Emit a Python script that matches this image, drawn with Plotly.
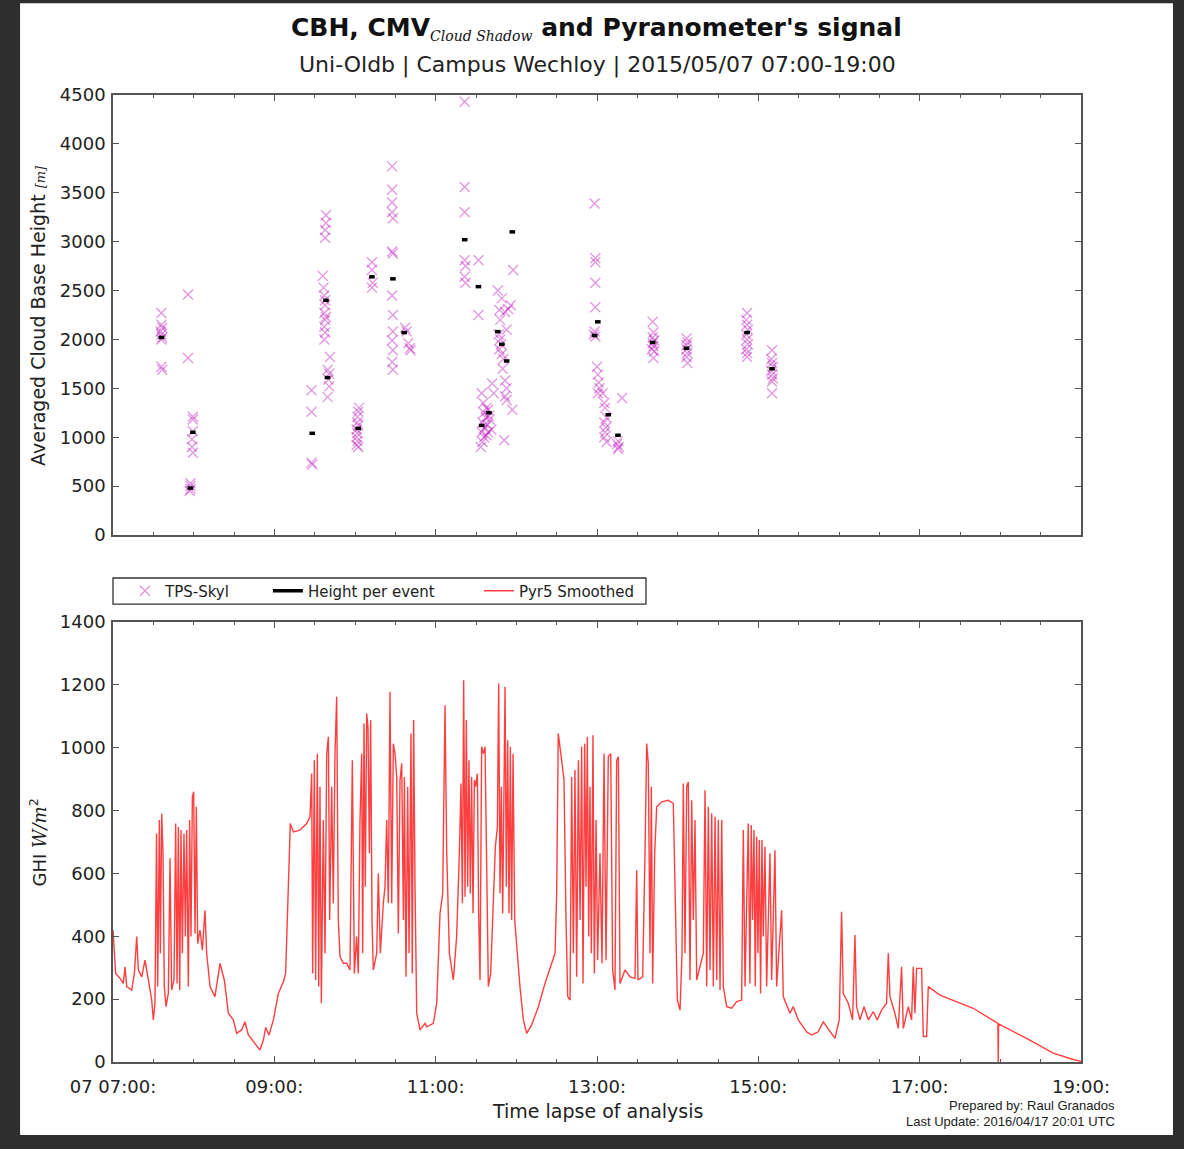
import plotly.graph_objects as go

# ---------------- data ----------------
# TPS-Skyl cloud base heights (crosses): decimal hour of day, height [m]
tps_hour = [
    7.60, 7.60, 7.61, 7.59, 7.60, 7.61, 7.60, 7.60, 7.61,
    7.93, 7.93, 7.99, 7.99, 7.99, 7.98, 7.98, 7.99, 7.96, 7.96, 7.96, 7.95,
    9.46, 9.46, 9.46, 9.47,
    9.64, 9.64, 9.63, 9.63, 9.60, 9.61, 9.62, 9.63, 9.62, 9.63, 9.62, 9.63, 9.62, 9.69, 9.66, 9.68, 9.67, 9.68, 9.66, 9.63, 9.64,
    10.05, 10.04, 10.03, 10.03, 10.04, 10.02, 10.03, 10.02, 10.03, 10.02, 10.04,
    10.21, 10.21, 10.22, 10.21,
    10.46, 10.46, 10.46, 10.46, 10.47, 10.46, 10.47, 10.46, 10.47, 10.47, 10.46, 10.47, 10.46, 10.47,
    10.62, 10.64, 10.66, 10.68, 10.69,
    11.36, 11.36, 11.36, 11.36, 11.37, 11.36, 11.37, 11.53, 11.53,
    11.57, 11.59, 11.60, 11.62, 11.58, 11.61, 11.57, 11.60, 11.58, 11.63, 11.65, 11.66, 11.67, 11.64, 11.69, 11.65, 11.70, 11.72, 11.63, 11.56,
    11.77, 11.82, 11.79, 11.86, 11.90, 11.80, 11.78, 11.80, 11.81, 11.79, 11.82, 11.84, 11.83, 11.86, 11.88, 11.86, 11.88, 11.95, 11.85, 11.96, 11.93, 11.88,
    12.97, 12.98, 12.98, 12.98, 12.98, 12.97, 12.96, 12.98, 13.00, 13.01, 13.02, 13.03, 13.01, 13.07, 13.09, 13.10, 13.12, 13.09, 13.11, 13.10, 13.09, 13.12, 13.31, 13.26, 13.25, 13.27, 13.26,
    13.69, 13.70, 13.69, 13.71, 13.69, 13.70, 13.68, 13.71, 13.70,
    14.11, 14.12, 14.11, 14.11, 14.12, 14.11, 14.12,
    14.86, 14.85, 14.86, 14.87, 14.85, 14.86, 14.87, 14.85, 14.86, 14.86,
    15.17, 15.16, 15.17, 15.18, 15.16, 15.17, 15.18, 15.17, 15.17,
]
tps_height = [
    2270, 2150, 2120, 2080, 2050, 2020, 2000, 1720, 1690,
    2460, 1810, 1210, 1180, 1060, 980, 900, 840, 530, 500, 470, 450,
    1480, 1260, 740, 720,
    3270, 3190, 3120, 3040, 2650, 2530, 2450, 2350, 2270, 2200, 2130, 2070, 2000, 1820, 1690, 1650, 1590, 1520, 1410, 2400, 2230,
    1300, 1260, 1210, 1150, 1120, 1080, 1040, 1000, 960, 920, 900,
    2790, 2710, 2580, 2530,
    3770, 3530, 3400, 3300, 3240, 2900, 2880, 2450, 2250, 2080, 1990, 1890, 1770, 1690,
    2120, 2080, 1960, 1910, 1890,
    4430, 3560, 3300, 2810, 2750, 2640, 2580, 2810, 2250,
    1450, 1350, 1250, 1200, 1150, 1100, 1050, 1000, 950, 1300, 1280, 1220, 1180, 1130, 1080, 1050, 1550, 1450, 1020, 900,
    2500, 2420, 2300, 2280, 2310, 2200, 2050, 2000, 1950, 1900, 1850, 1800, 1700, 1580, 1500, 1420, 1380, 1280, 970, 2710, 2350, 2100,
    3390, 2830, 2790, 2580, 2330, 2080, 2050, 2030, 1720, 1640, 1560, 1500, 1450, 1450, 1350, 1300, 1200, 1150, 1100, 1050, 1000, 950, 1400, 960, 930, 900, 880,
    2180, 2070, 2020, 1990, 1960, 1930, 1900, 1880, 1810,
    2010, 1970, 1940, 1900, 1860, 1820, 1760,
    2270, 2200, 2150, 2100, 2050, 2000, 1950, 1900, 1860, 1820,
    1890, 1800, 1760, 1720, 1680, 1640, 1600, 1570, 1450,
]

# Height per event (black dashes)
event_hour = [7.60, 7.99, 7.96, 9.47, 9.64, 9.66, 10.04, 10.21, 10.47, 10.61, 11.36, 11.53, 11.57,
              11.66, 11.77, 11.82, 11.88, 11.95, 12.97, 13.01, 13.14, 13.26, 13.69, 14.11, 14.86, 15.17]
event_height = [2020, 1050, 480, 1040, 2400, 1610, 1090, 2640, 2620, 2070, 3020, 2540, 1120,
                1250, 2080, 1950, 1780, 3100, 2040, 2180, 1230, 1020, 1970, 1910, 2070, 1700]

# Pyr5 smoothed GHI [W/m2]
ghi_hour = [
    7.00, 7.017, 7.033, 7.087, 7.128, 7.149, 7.170, 7.232, 7.265, 7.294,
    7.314, 7.356, 7.397, 7.438, 7.48, 7.50, 7.52, 7.54, 7.554, 7.575,
    7.587, 7.604, 7.62, 7.636, 7.657, 7.686, 7.707, 7.727, 7.756, 7.777,
    7.794, 7.81, 7.827, 7.843, 7.86, 7.88, 7.897, 7.913, 7.934, 7.95,
    7.967, 7.984, 8.0, 8.017, 8.033, 8.05, 8.079, 8.108, 8.14, 8.161,
    8.203, 8.264, 8.327, 8.38, 8.43, 8.492, 8.533, 8.595, 8.636, 8.678,
    8.74, 8.822, 8.864, 8.893, 8.934, 8.988, 9.05, 9.112, 9.14, 9.165,
    9.182, 9.198, 9.236, 9.318, 9.4, 9.442, 9.463, 9.475, 9.496, 9.512,
    9.533, 9.55, 9.566, 9.583, 9.607, 9.628, 9.649, 9.67, 9.686, 9.711,
    9.731, 9.752, 9.773, 9.793, 9.814, 9.855, 9.897, 9.938, 9.967, 9.992,
    10.02, 10.041, 10.062, 10.083, 10.095, 10.112, 10.128, 10.145, 10.161, 10.178,
    10.194, 10.211, 10.227, 10.269, 10.289, 10.314, 10.351, 10.372, 10.393, 10.413,
    10.434, 10.455, 10.475, 10.496, 10.517, 10.537, 10.558, 10.579, 10.6, 10.612,
    10.632, 10.653, 10.67, 10.694, 10.71, 10.727, 10.744, 10.765, 10.806, 10.868,
    10.889, 10.971, 11.013, 11.054, 11.087, 11.116, 11.137, 11.17, 11.219, 11.26,
    11.294, 11.314, 11.331, 11.347, 11.364, 11.38, 11.397, 11.413, 11.43, 11.446,
    11.463, 11.48, 11.496, 11.517, 11.533, 11.55, 11.57, 11.591, 11.612, 11.632,
    11.653, 11.682, 11.715, 11.74, 11.765, 11.781, 11.798, 11.814, 11.831, 11.847,
    11.86, 11.876, 11.893, 11.909, 11.926, 11.942, 11.959, 11.98, 12.012, 12.045,
    12.087, 12.128, 12.19, 12.273, 12.355, 12.438, 12.48, 12.5, 12.52, 12.562,
    12.591, 12.616, 12.637, 12.666, 12.686, 12.707, 12.727, 12.748, 12.769, 12.79,
    12.81, 12.827, 12.847, 12.864, 12.88, 12.897, 12.913, 12.93, 12.95, 12.967,
    12.988, 13.008, 13.037, 13.062, 13.087, 13.112, 13.14, 13.17, 13.194, 13.223,
    13.244, 13.265, 13.285, 13.347, 13.409, 13.471, 13.492, 13.508, 13.566, 13.595,
    13.616, 13.636, 13.657, 13.674, 13.69, 13.715, 13.74, 13.802, 13.884, 13.946,
    13.967, 13.996, 14.029, 14.054, 14.07, 14.091, 14.112, 14.132, 14.153, 14.174,
    14.194, 14.215, 14.236, 14.277, 14.318, 14.339, 14.36, 14.38, 14.401, 14.422,
    14.442, 14.463, 14.484, 14.504, 14.525, 14.546, 14.566, 14.608, 14.67, 14.731,
    14.793, 14.814, 14.835, 14.875, 14.896, 14.912, 14.929, 14.946, 14.962, 14.979,
    14.995, 15.012, 15.028, 15.045, 15.061, 15.082, 15.103, 15.144, 15.165, 15.206,
    15.227, 15.289, 15.309, 15.392, 15.433, 15.495, 15.598, 15.66, 15.743, 15.805,
    15.867, 15.95, 16.003, 16.032, 16.053, 16.115, 16.169, 16.198, 16.218, 16.26,
    16.31, 16.363, 16.425, 16.474, 16.528, 16.59, 16.611, 16.632, 16.693, 16.735,
    16.776, 16.797, 16.859, 16.9, 16.921, 16.941, 16.962, 17.024, 17.045, 17.086,
    17.107, 17.169, 17.251, 17.664, 17.97, 17.974, 17.978, 18.325, 18.656, 18.904, 19.0,
]
ghi_value = [
    420, 345, 282, 266, 250, 303, 240, 229, 282, 399,
    293, 271, 324, 261, 197, 134, 187, 727, 240, 770,
    346, 790, 664, 240, 176, 218, 648, 229, 261, 759,
    250, 748, 229, 738, 346, 727, 399, 738, 240, 770,
    399, 844, 860, 409, 812, 377, 420, 356, 483, 346,
    240, 208, 314, 261, 155, 134, 91, 102, 128, 86,
    65, 38, 70, 110, 86, 134, 218, 255, 282, 505,
    664, 759, 732, 738, 759, 780, 918, 282, 960, 261,
    981, 240, 876, 187, 770, 346, 981, 1035, 452, 876,
    505, 981, 1162, 452, 335, 314, 314, 293, 960, 282,
    399, 282, 770, 981, 346, 1077, 558, 1109, 1066, 664,
    1088, 452, 293, 346, 600, 346, 505, 558, 770, 505,
    1178, 505, 1013, 981, 907, 409, 897, 950, 452, 907,
    271, 876, 346, 1045, 282, 1088, 558, 155, 102, 123,
    112, 123, 187, 473, 536, 1135, 664, 346, 261, 399,
    664, 886, 505, 1215, 526, 1088, 558, 960, 536, 907,
    473, 897, 876, 918, 473, 261, 1003, 981, 1003, 558,
    240, 282, 505, 685, 748, 1204, 536, 876, 473, 960,
    1194, 558, 1024, 473, 1003, 452, 981, 452, 346, 240,
    134, 91, 118, 176, 250, 314, 346, 536, 1045, 960,
    897, 452, 208, 197, 907, 346, 929, 271, 960, 452,
    1003, 250, 1013, 558, 1035, 399, 876, 346, 1040, 282,
    770, 324, 664, 314, 981, 324, 971, 981, 293, 229,
    960, 971, 250, 293, 271, 266, 610, 261, 271, 664,
    1013, 950, 346, 876, 250, 664, 812, 828, 833, 823,
    558, 197, 165, 346, 886, 346, 876, 891, 261, 833,
    452, 770, 261, 303, 346, 865, 240, 812, 293, 791,
    240, 780, 261, 770, 229, 770, 240, 176, 171, 192,
    197, 738, 240, 759, 250, 754, 452, 738, 240, 717,
    346, 706, 218, 706, 399, 685, 240, 664, 261, 674,
    240, 483, 208, 155, 176, 134, 96, 86, 96, 128,
    107, 75, 134, 478, 218, 187, 134, 404, 176, 134,
    176, 134, 160, 134, 165, 187, 346, 208, 155, 107,
    303, 107, 176, 134, 303, 155, 298, 298, 81, 81,
    240, 229, 213, 171, 123, 0, 121, 75, 28, 8, 2,
]

time_tick_vals = [7, 9, 11, 13, 15, 17, 19]
time_tick_text = ["07 07:00:", "09:00:", "11:00:", "13:00:", "15:00:", "17:00:", "19:00:"]
cbh_tick_vals = [0, 500, 1000, 1500, 2000, 2500, 3000, 3500, 4000, 4500]
ghi_tick_vals = [0, 200, 400, 600, 800, 1000, 1200, 1400]

# ---------------- figure ----------------
FONT = "DejaVu Sans"
TXT = "#222222"
AX = "#555555"

fig = go.Figure()

fig.add_trace(go.Scatter(
    x=tps_hour, y=tps_height, mode="markers", name="TPS-Skyl",
    marker=dict(symbol="x-thin", size=10, color="rgba(185,0,185,0.4)",
                line=dict(width=1.4, color="rgba(185,0,185,0.4)")),
    xaxis="x", yaxis="y", legend="legend"))
fig.add_trace(go.Scatter(
    x=event_hour, y=event_height, mode="markers", showlegend=False, name="Height per event",
    marker=dict(symbol="line-ew", size=4, color="black", line=dict(width=3.5, color="black")),
    xaxis="x", yaxis="y"))
fig.add_trace(go.Scatter(
    x=[None], y=[None], mode="lines", name="Height per event",
    line=dict(color="black", width=3.5), xaxis="x", yaxis="y", legend="legend2"))
fig.add_trace(go.Scatter(
    x=ghi_hour, y=ghi_value, mode="lines", name="Pyr5 Smoothed",
    line=dict(color="rgba(255,15,15,0.8)", width=1.4),
    xaxis="x2", yaxis="y2", legend="legend3"))

axis_common = dict(showline=True, linecolor=AX, linewidth=1.6, mirror="allticks",
                   ticks="inside", ticklen=6, tickwidth=1, tickcolor=AX,
                   showgrid=False, zeroline=False,
                   tickfont=dict(family=FONT, size=18, color=TXT))
x_minor = dict(ticks="inside", ticklen=3, tickcolor=AX, tickmode="linear", tick0=7, dtick=0.5, showgrid=False)

fig.update_layout(
    width=1184, height=1149,
    paper_bgcolor="#2e2e2e", plot_bgcolor="white",
    margin=dict(l=113, r=103, t=95, b=87),
    font=dict(family=FONT, color=TXT),
    xaxis=dict(axis_common, domain=[0, 1], range=[7, 19], anchor="y",
               tickmode="array", tickvals=time_tick_vals, ticktext=time_tick_text,
               showticklabels=False, minor=x_minor),
    yaxis=dict(axis_common, domain=[0.545, 1], range=[0, 4500], anchor="x",
               tickmode="array", tickvals=cbh_tick_vals, ticklabelstandoff=2),
    xaxis2=dict(axis_common, domain=[0, 1], range=[7, 19], anchor="y2",
                tickmode="array", tickvals=time_tick_vals, ticktext=time_tick_text,
                minor=x_minor, ticklabelstandoff=8),
    yaxis2=dict(axis_common, domain=[0, 0.455], range=[0, 1400], anchor="x2",
                tickmode="array", tickvals=ghi_tick_vals, ticklabelstandoff=2),
    showlegend=True,
    legend=dict(x=0.0124, y=0.487, xanchor="left", yanchor="middle", orientation="h",
                bgcolor="rgba(0,0,0,0)", borderwidth=0, font=dict(family=FONT, size=15, color=TXT)),
    legend2=dict(x=0.160, y=0.487, xanchor="left", yanchor="middle", orientation="h",
                 bgcolor="rgba(0,0,0,0)", borderwidth=0, font=dict(family=FONT, size=15, color=TXT)),
    legend3=dict(x=0.378, y=0.487, xanchor="left", yanchor="middle", orientation="h",
                 bgcolor="rgba(0,0,0,0)", borderwidth=0, font=dict(family=FONT, size=15, color=TXT)),
    shapes=[
        dict(type="rect", xref="paper", yref="paper", x0=-0.096, x1=1.095, y0=-0.0755, y1=1.095,
             fillcolor="white", line=dict(width=0), layer="below"),
        dict(type="rect", xref="paper", yref="paper", x0=0, x1=0.5506, y0=0.4736, y1=0.5005,
             fillcolor="rgba(0,0,0,0)", line=dict(width=1.3, color="#333333"), layer="above"),
    ],
    annotations=[
        dict(xref="paper", yref="paper", x=0.499, y=1.069, xanchor="center", yanchor="middle", showarrow=False,
             text="<b>CBH, CMV</b><sub><span style='font-family:DejaVu Serif;font-style:italic;font-size:14px'>Cloud Shadow</span></sub><b> and Pyranometer's signal</b>",
             font=dict(family=FONT, size=25, color="#111")),
        dict(xref="paper", yref="paper", x=0.501, y=1.031, xanchor="center", yanchor="middle", showarrow=False,
             text="Uni-Oldb | Campus Wechloy | 2015/05/07 07:00-19:00",
             font=dict(family=FONT, size=22, color=TXT)),
        dict(xref="paper", yref="paper", x=-0.077, y=0.772, xanchor="center", yanchor="middle", showarrow=False,
             textangle=-90,
             text="Averaged Cloud Base Height <span style='font-family:DejaVu Serif;font-style:italic;font-size:13px'>[m]</span>",
             font=dict(family=FONT, size=19, color=TXT)),
        dict(xref="paper", yref="paper", x=-0.077, y=0.2275, xanchor="center", yanchor="middle", showarrow=False,
             textangle=-90,
             text="GHI <span style='font-family:DejaVu Serif;font-style:italic'>W/m</span><sup>2</sup>",
             font=dict(family=FONT, size=18, color=TXT)),
        dict(xref="paper", yref="paper", x=0.501, y=-0.0507, xanchor="center", yanchor="middle", showarrow=False,
             text="Time lapse of analysis", font=dict(family=FONT, size=19, color=TXT)),
        dict(xref="paper", yref="paper", x=1.037, y=-0.0445, xanchor="right", yanchor="middle", showarrow=False,
             text="Prepared by: Raul Granados", font=dict(family="Liberation Sans", size=13, color=TXT)),
        dict(xref="paper", yref="paper", x=1.037, y=-0.062, xanchor="right", yanchor="middle", showarrow=False,
             text="Last Update: 2016/04/17 20:01 UTC", font=dict(family="Liberation Sans", size=13, color=TXT)),
    ],
)

fig.write_html("out.html")
